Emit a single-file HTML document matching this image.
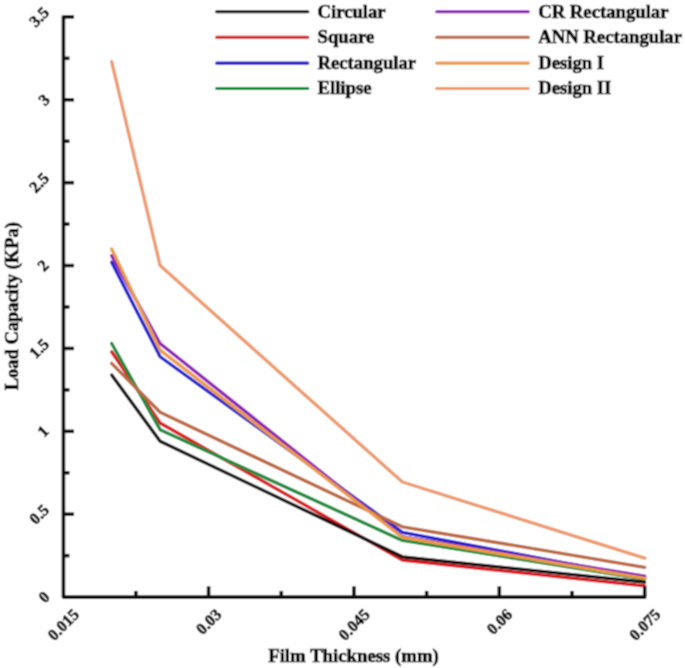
<!DOCTYPE html><html><head><meta charset="utf-8"><style>html,body{margin:0;padding:0;background:#fff;}svg{display:block;}text{font-family:"Liberation Serif",serif;font-weight:bold;fill:#000;stroke:#000;stroke-width:0.6px;}</style></head><body>
<svg width="685" height="668" viewBox="0 0 685 668">
<defs><filter id="bl" x="0" y="0" width="685" height="668" filterUnits="userSpaceOnUse"><feConvolveMatrix order="3" kernelMatrix="1 2 1 2 6 2 1 2 1" edgeMode="duplicate" preserveAlpha="true"/></filter></defs>
<g filter="url(#bl)">
<rect width="685" height="668" fill="#fff"/>
<g fill="none" stroke-width="3.30" stroke-linejoin="round" stroke-linecap="round">
<polyline points="111.66,262.24 160.12,356.73 402.41,532.28 644.70,578.04" stroke="#1a1ad0"/>
<polyline points="111.66,255.61 160.12,343.47 402.41,536.76 644.70,576.21" stroke="#8c18b8"/>
<polyline points="111.66,351.76 160.12,423.04 402.41,560.13 644.70,585.83" stroke="#d8121a"/>
<polyline points="111.66,343.47 160.12,429.67 402.41,540.41 644.70,579.20" stroke="#188a3a"/>
<polyline points="111.66,363.36 160.12,412.26 402.41,526.81 644.70,567.26" stroke="#bc6840"/>
<polyline points="111.66,248.98 160.12,350.10 402.41,537.26 644.70,578.37" stroke="#ec9a48"/>
<polyline points="111.66,374.97 160.12,441.27 402.41,556.82 644.70,582.18" stroke="#0a0a0a"/>
<polyline points="111.66,61.66 160.12,265.56 402.41,482.05 644.70,558.14" stroke="#ed9a6e"/>
</g>
<g stroke="#111" stroke-width="3.6" fill="none" stroke-linecap="butt" stroke-linejoin="round">
<path d="M63.45 15.40 V597.10 H646.20"/>
<path d="M63.45 514.21 H74.05"/>
<path d="M63.45 431.33 H74.05"/>
<path d="M63.45 348.44 H74.05"/>
<path d="M63.45 265.56 H74.05"/>
<path d="M63.45 182.67 H74.05"/>
<path d="M63.45 99.79 H74.05"/>
<path d="M63.45 16.90 H74.05"/>
<path d="M63.45 555.66 H69.45"/>
<path d="M63.45 472.77 H69.45"/>
<path d="M63.45 389.89 H69.45"/>
<path d="M63.45 307.00 H69.45"/>
<path d="M63.45 224.11 H69.45"/>
<path d="M63.45 141.23 H69.45"/>
<path d="M63.45 58.34 H69.45"/>
<path d="M208.57 597.10 V586.30"/>
<path d="M353.95 597.10 V586.30"/>
<path d="M499.32 597.10 V586.30"/>
<path d="M644.70 597.10 V586.30"/>
<path d="M135.89 597.10 V590.90"/>
<path d="M281.26 597.10 V590.90"/>
<path d="M426.64 597.10 V590.90"/>
<path d="M572.01 597.10 V590.90"/>
</g>
<text x="0" y="0" font-size="16.3" text-anchor="middle" dominant-baseline="central" transform="translate(44.00 597.10) rotate(-45)">0</text>
<text x="0" y="0" font-size="16.3" text-anchor="middle" dominant-baseline="central" transform="translate(39.00 514.21) rotate(-45)">0.5</text>
<text x="0" y="0" font-size="16.3" text-anchor="middle" dominant-baseline="central" transform="translate(43.00 431.33) rotate(-45)">1</text>
<text x="0" y="0" font-size="16.3" text-anchor="middle" dominant-baseline="central" transform="translate(39.00 348.44) rotate(-45)">1.5</text>
<text x="0" y="0" font-size="16.3" text-anchor="middle" dominant-baseline="central" transform="translate(43.00 265.56) rotate(-45)">2</text>
<text x="0" y="0" font-size="16.3" text-anchor="middle" dominant-baseline="central" transform="translate(39.00 182.67) rotate(-45)">2.5</text>
<text x="0" y="0" font-size="16.3" text-anchor="middle" dominant-baseline="central" transform="translate(44.00 99.79) rotate(-45)">3</text>
<text x="0" y="0" font-size="16.3" text-anchor="middle" dominant-baseline="central" transform="translate(39.00 16.90) rotate(-45)">3.5</text>
<text x="0" y="0" font-size="16.3" text-anchor="middle" dominant-baseline="central" transform="translate(63.20 624.60) rotate(-45)">0.015</text>
<text x="0" y="0" font-size="16.3" text-anchor="middle" dominant-baseline="central" transform="translate(208.57 621.60) rotate(-45)">0.03</text>
<text x="0" y="0" font-size="16.3" text-anchor="middle" dominant-baseline="central" transform="translate(353.95 624.60) rotate(-45)">0.045</text>
<text x="0" y="0" font-size="16.3" text-anchor="middle" dominant-baseline="central" transform="translate(499.32 621.60) rotate(-45)">0.06</text>
<text x="0" y="0" font-size="16.3" text-anchor="middle" dominant-baseline="central" transform="translate(644.70 624.60) rotate(-45)">0.075</text>
<text x="353.5" y="662" font-size="18.3" text-anchor="middle" textLength="170.6" lengthAdjust="spacingAndGlyphs">Film Thickness (mm)</text>
<text x="0" y="0" font-size="17.8" text-anchor="middle" textLength="168" lengthAdjust="spacingAndGlyphs" transform="translate(17.6 306.2) rotate(-90)">Load Capacity (KPa)</text>
<line x1="216.6" y1="11.70" x2="307.8" y2="11.70" stroke="#0a0a0a" stroke-width="3.15" stroke-linecap="round"/>
<text x="317.5" y="17.50" font-size="18.7">Circular</text>
<line x1="216.6" y1="37.25" x2="307.8" y2="37.25" stroke="#d8121a" stroke-width="3.15" stroke-linecap="round"/>
<text x="317.5" y="43.05" font-size="18.7">Square</text>
<line x1="216.6" y1="63.05" x2="307.8" y2="63.05" stroke="#1a1ad0" stroke-width="3.15" stroke-linecap="round"/>
<text x="317.5" y="68.85" font-size="18.7">Rectangular</text>
<line x1="216.6" y1="88.50" x2="307.8" y2="88.50" stroke="#188a3a" stroke-width="3.15" stroke-linecap="round"/>
<text x="317.5" y="94.30" font-size="18.7">Ellipse</text>
<line x1="436.7" y1="11.70" x2="528.3" y2="11.70" stroke="#8c18b8" stroke-width="3.15" stroke-linecap="round"/>
<text x="538.2" y="17.50" font-size="18.7">CR Rectangular</text>
<line x1="436.7" y1="37.25" x2="528.3" y2="37.25" stroke="#bc6840" stroke-width="3.15" stroke-linecap="round"/>
<text x="538.2" y="43.05" font-size="18.7">ANN Rectangular</text>
<line x1="436.7" y1="63.05" x2="528.3" y2="63.05" stroke="#ec9a48" stroke-width="3.15" stroke-linecap="round"/>
<text x="538.2" y="68.85" font-size="18.7">Design I</text>
<line x1="436.7" y1="88.50" x2="528.3" y2="88.50" stroke="#ed9a6e" stroke-width="3.15" stroke-linecap="round"/>
<text x="538.2" y="94.30" font-size="18.7">Design II</text>
</g>
</svg></body></html>
